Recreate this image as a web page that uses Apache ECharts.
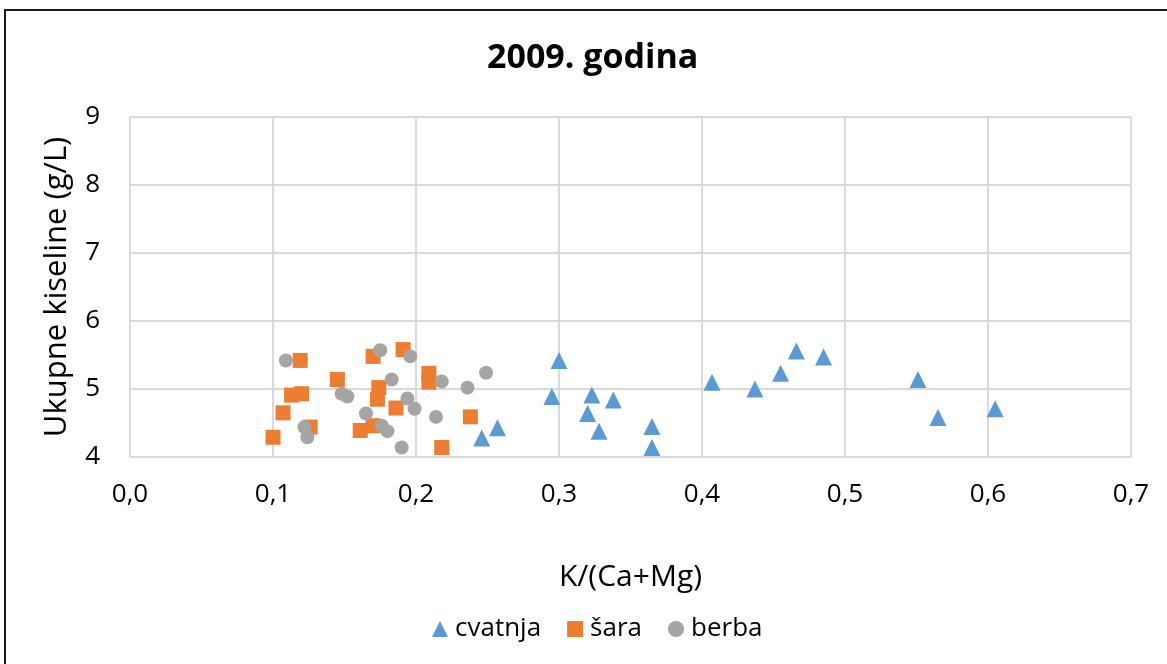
<!DOCTYPE html>
<html>
<head>
<meta charset="utf-8">
<title>2009. godina</title>
<script src="https://cdn.jsdelivr.net/npm/echarts@6/dist/echarts.min.js"></script>
<style>
  html, body { margin: 0; padding: 0; background: #fff; overflow: hidden; }
  #chart { width: 1167px; height: 664px; }
</style>
</head>
<body>
<div id="chart"></div>
<script>
// x ticks shown with decimal comma
const xTicks = ['0,0', '0,1', '0,2', '0,3', '0,4', '0,5', '0,6', '0,7'];
const yTicks = [4, 5, 6, 7, 8, 9];

// cvatnja (blue triangles)
const cvatnjaX = [0.246, 0.257, 0.300, 0.295, 0.323, 0.338, 0.320, 0.328, 0.365, 0.365,
                  0.407, 0.437, 0.455, 0.466, 0.485, 0.551, 0.565, 0.605];
const cvatnjaY = [4.28, 4.43, 5.42, 4.89, 4.91, 4.84, 4.64, 4.38, 4.45, 4.14,
                  5.10, 5.00, 5.23, 5.56, 5.47, 5.14, 4.58, 4.71];

// šara (orange squares)
const saraX = [0.119, 0.191, 0.170, 0.145, 0.209, 0.209, 0.113, 0.120, 0.174,
               0.173, 0.186, 0.107, 0.238, 0.126, 0.100, 0.161, 0.170, 0.218];
const saraY = [5.42, 5.58, 5.48, 5.14, 5.23, 5.10, 4.91, 4.93, 5.02,
               4.85, 4.72, 4.65, 4.59, 4.44, 4.29, 4.39, 4.46, 4.14];

// berba (grey circles)
const berbaX = [0.109, 0.175, 0.196, 0.183, 0.218, 0.249, 0.236, 0.148, 0.152,
                0.194, 0.199, 0.165, 0.214, 0.122, 0.124, 0.176, 0.180, 0.190];
const berbaY = [5.42, 5.57, 5.48, 5.14, 5.11, 5.24, 5.02, 4.93, 4.89,
                4.86, 4.71, 4.64, 4.59, 4.44, 4.29, 4.46, 4.38, 4.14];

function zip(xs, ys) {
  return xs.map((x, i) => [x, ys[i]]);
}

const font = '"Open Sans", "Noto Sans", sans-serif';
const chart = echarts.init(document.getElementById('chart'));

chart.setOption({
  animation: false,
  textStyle: { fontFamily: font },
  title: {
    text: '2009. godina',
    left: 482,
    top: 36,
    textStyle: { fontSize: 34, fontWeight: 'bold', color: '#000', fontFamily: font }
  },
  graphic: [{
    type: 'rect',
    shape: { x: 5, y: 10, width: 1200, height: 700 },
    style: { fill: 'none', stroke: '#1a1a1a', lineWidth: 2 },
    silent: true
  }],
  legend: {
    bottom: 17,
    left: 427,
    itemWidth: 16,
    itemHeight: 16,
    itemGap: 26,
    textStyle: { fontSize: 26, color: '#000', fontFamily: font, padding: [0, 0, 0, 2] },
    data: ['cvatnja', 'šara', 'berba']
  },
  grid: { left: 130, right: 36, top: 117, bottom: 207 },
  xAxis: {
    type: 'value',
    min: 0,
    max: 0.7,
    interval: 0.1,
    name: 'K/(Ca+Mg)',
    nameLocation: 'middle',
    nameGap: 105,
    nameTextStyle: { fontSize: 30, color: '#000', fontFamily: font },
    axisLine: { show: false },
    axisTick: { show: false },
    axisLabel: {
      fontSize: 26, color: '#000', margin: 25,
      formatter: v => xTicks[Math.round(v * 10)]
    },
    splitLine: { show: true, lineStyle: { color: '#d9d9d9', width: 2 } }
  },
  yAxis: {
    type: 'value',
    min: yTicks[0],
    max: yTicks[yTicks.length - 1],
    interval: 1,
    name: 'Ukupne kiseline (g/L)',
    nameLocation: 'middle',
    nameGap: 57,
    nameTextStyle: { fontSize: 31, color: '#000', fontFamily: font },
    axisLine: { show: false },
    axisTick: { show: false },
    axisLabel: { fontSize: 26, color: '#000', margin: 30 },
    splitLine: { show: true, lineStyle: { color: '#d9d9d9', width: 2 } }
  },
  series: [
    {
      name: 'cvatnja',
      type: 'scatter',
      symbol: 'triangle',
      symbolSize: 17,
      itemStyle: { color: '#5b9bd5', opacity: 1 },
      data: zip(cvatnjaX, cvatnjaY)
    },
    {
      name: 'šara',
      type: 'scatter',
      symbol: 'rect',
      symbolSize: 15,
      itemStyle: { color: '#ed7d31', opacity: 1 },
      data: zip(saraX, saraY)
    },
    {
      name: 'berba',
      type: 'scatter',
      symbol: 'circle',
      symbolSize: 14,
      itemStyle: { color: '#a5a5a5', opacity: 1 },
      data: zip(berbaX, berbaY)
    }
  ]
});
</script>
</body>
</html>
